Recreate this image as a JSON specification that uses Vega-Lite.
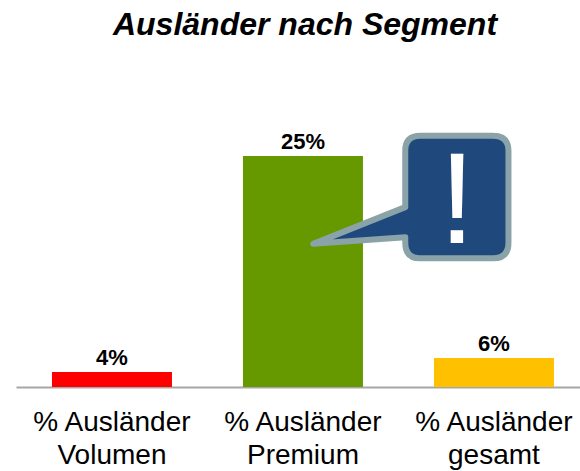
{
  "$schema": "https://vega.github.io/schema/vega-lite/v6.json",
  "autosize": "none",
  "width": 564,
  "height": 327,
  "padding": {"left": 16, "top": 60, "right": 0, "bottom": 84},
  "background": "white",
  "title": {"text": "Ausländer nach Segment", "font": "Liberation Sans", "fontSize": 32, "fontWeight": "bold", "fontStyle": "italic", "color": "#000000", "anchor": "middle", "frame": "group", "dx": 7, "offset": 18},
  "datasets": {
    "bars": [
      {"segment": "% Ausländer Volumen", "height": 1.62, "label": "4%"},
      {"segment": "% Ausländer Premium", "height": 25, "label": "25%"},
      {"segment": "% Ausländer gesamt", "height": 3.14, "label": "6%"}
    ],
    "note": [
      {"segment": "% Ausländer Premium", "height": 15.6, "note": "!"}
    ]
  },
  "encoding": {
    "x": {
      "field": "segment", "type": "nominal", "sort": null,
      "scale": {"domain": ["% Ausländer Volumen", "% Ausländer Premium", "% Ausländer gesamt"], "paddingInner": 0.3717, "paddingOuter": 0.1624, "align": 0.58},
      "axis": {"title": null, "labelAngle": 0, "ticks": false, "domainColor": "#a6a6a6", "domainWidth": 2, "labelFont": "Liberation Sans", "labelFontSize": 28, "labelColor": "#000000", "labelLineHeight": 33, "labelPadding": 21, "labelOverlap": false, "labelLimit": 0, "grid": false, "labelExpr": "[slice(datum.label,0,11), slice(datum.label,12)]"}
    },
    "y": {
      "field": "height", "type": "quantitative",
      "scale": {"domain": [0, 35.39], "nice": false, "zero": true},
      "axis": null
    }
  },
  "layer": [
    {
      "data": {"name": "bars"},
      "mark": {"type": "bar", "cornerRadius": 0},
      "encoding": {
        "color": {"field": "segment", "type": "nominal", "legend": null, "scale": {"domain": ["% Ausländer Volumen", "% Ausländer Premium", "% Ausländer gesamt"], "range": ["#ff0000", "#669900", "#ffc000"]}}
      }
    },
    {
      "data": {"name": "bars"},
      "mark": {"type": "text", "font": "Liberation Sans", "fontSize": 22, "fontWeight": "bold", "color": "#000000", "baseline": "alphabetic", "align": "center", "dy": -7},
      "encoding": {"text": {"field": "label", "type": "nominal"}}
    },
    {
      "data": {"name": "note"},
      "mark": {"type": "point", "filled": true, "fill": "#1f497d", "fillOpacity": 1, "opacity": 1, "stroke": "#8aa3a8", "strokeWidth": 6, "strokeJoin": "round", "size": 4, "shape": "M10.3 1 L102.3 -35.7 L102.3 -92 Q102.3 -107 117.3 -107 L190 -107 Q205.5 -107 205.5 -92 L205.5 0 Q205.5 15.5 190 15.5 L117.3 15.5 Q102.3 15.5 102.3 0 L102.3 -5.7 Z"}
    },
    {
      "data": {"name": "note"},
      "mark": {"type": "text", "font": "Liberation Sans", "fontSize": 130, "color": "#ffffff", "baseline": "alphabetic", "align": "center", "dx": 154, "dy": 0},
      "encoding": {"text": {"field": "note", "type": "nominal"}}
    }
  ],
  "config": {"view": {"stroke": null}}
}
